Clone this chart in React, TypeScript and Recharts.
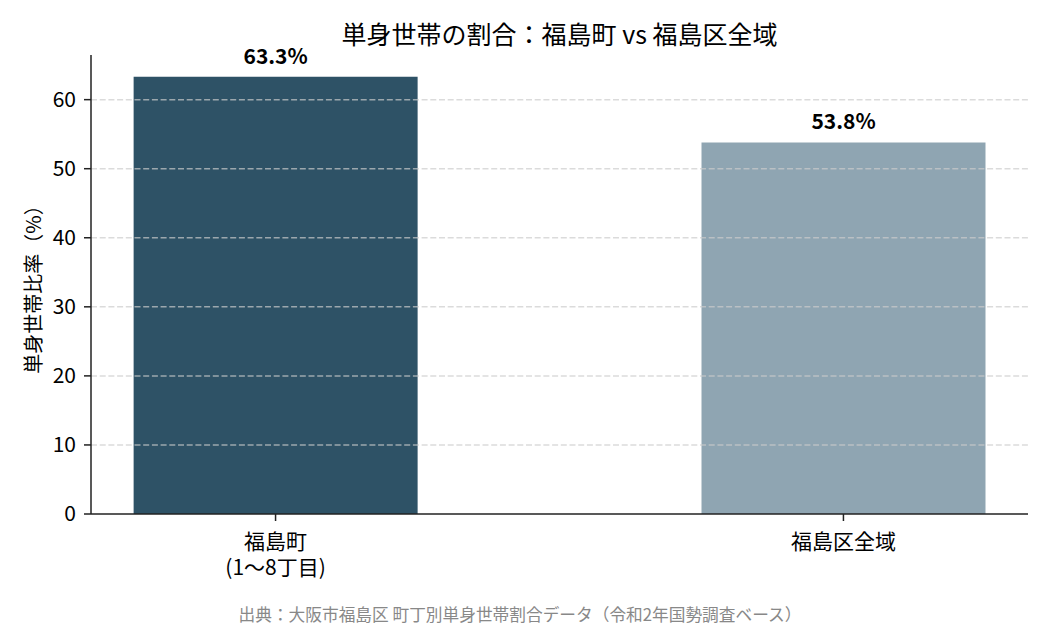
import React from 'react'
import { BarChart, Bar, XAxis, YAxis, Cell, LabelList, ReferenceLine } from 'recharts'

const categories = ['福島町\n(1〜8丁目)', '福島区全域']
const singleRates = [63.3, 53.8]
const barColors = ['#2e5266', '#8fa5b2']
const yTicks = [0, 10, 20, 30, 40, 50, 60]
const gridLines = [10, 20, 30, 40, 50, 60]

const FONT = '"Noto Sans CJK JP", "Noto Sans", sans-serif'

const data = categories.map((name, i) => ({ name, pos: i, value: singleRates[i] }))

function CategoryTick({ x, y, payload }: any) {
  const lines = categories[payload.value].split('\n')
  return (
    <foreignObject x={x - 150} y={y + 4} width={300} height={60}>
      <div
        style={{
          textAlign: 'center',
          fontSize: 21,
          lineHeight: '26px',
          color: '#000',
          fontFamily: FONT,
        }}
      >
        {lines.map((line, i) => (
          <React.Fragment key={i}>
            {i > 0 && <br />}
            {line}
          </React.Fragment>
        ))}
      </div>
    </foreignObject>
  )
}

export default function App() {
  return (
    <div style={{ width: 1050, height: 630, position: 'relative', background: '#fff', fontFamily: FONT }}>
      <style>{'body{margin:0}'}</style>
      <BarChart
        width={1050}
        height={630}
        data={data}
        margin={{ top: 55, right: 22, bottom: 56, left: 0 }}
      >
        <XAxis
          type="number"
          dataKey="pos"
          domain={[-0.325, 1.325]}
          ticks={[0, 1]}
          allowDataOverflow
          height={60}
          tickSize={7}
          tick={<CategoryTick />}
          axisLine={{ stroke: '#222', strokeWidth: 1.5 }}
          tickLine={{ stroke: '#222', strokeWidth: 1.5 }}
        />
        <YAxis
          type="number"
          domain={[0, 66.465]}
          ticks={yTicks}
          width={91}
          tickSize={7}
          tickMargin={8}
          tick={{ fontSize: 21, fill: '#000', fontFamily: FONT }}
          axisLine={{ stroke: '#222', strokeWidth: 1.5 }}
          tickLine={{ stroke: '#222', strokeWidth: 1.5 }}
          label={{
            value: '単身世帯比率（%）',
            angle: -90,
            position: 'insideLeft',
            offset: 0,
            dx: 34,
            style: { fontSize: 20, fill: '#000', fontFamily: FONT, textAnchor: 'middle' },
          }}
        />
        <Bar dataKey="value" barSize={284} isAnimationActive={false}>
          {data.map((d, i) => (
            <Cell key={d.name} fill={barColors[i]} />
          ))}
          <LabelList
            dataKey="value"
            position="top"
            offset={13}
            formatter={(v: any) => `${Number(v).toFixed(1)}%`}
            style={{ fontSize: 21, fontWeight: 700, fill: '#000', fontFamily: FONT }}
          />
        </Bar>
        {gridLines.map((v) => (
          <ReferenceLine
            key={v}
            y={v}
            stroke="#cccccc"
            strokeOpacity={0.7}
            strokeWidth={1.5}
            strokeDasharray="6 2.7"
          />
        ))}
      </BarChart>
      <div
        style={{
          position: 'absolute',
          top: 17,
          left: 91,
          width: 937,
          textAlign: 'center',
          fontSize: 25,
          lineHeight: '32px',
          color: '#000',
        }}
      >
        単身世帯の割合：福島町 vs 福島区全域
      </div>
      <div
        style={{
          position: 'absolute',
          top: 603,
          left: 0,
          width: 1040,
          textAlign: 'center',
          fontSize: 16.7,
          lineHeight: '22px',
          color: '#888',
        }}
      >
        出典：大阪市福島区 町丁別単身世帯割合データ（令和2年国勢調査ベース）
      </div>
    </div>
  )
}
